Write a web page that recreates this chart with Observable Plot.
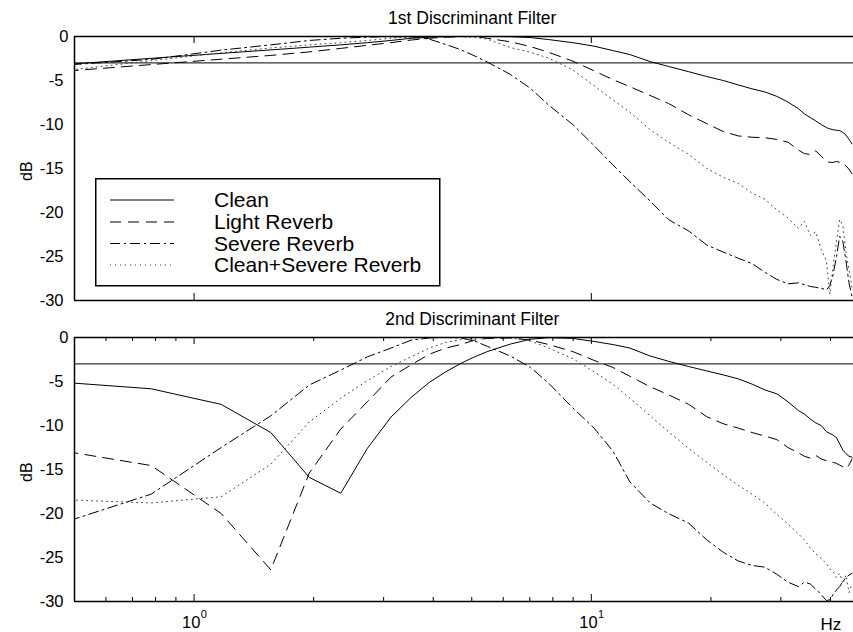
<!DOCTYPE html>
<html><head><meta charset="utf-8">
<script src="https://cdn.jsdelivr.net/npm/d3@7"></script>
<script src="https://cdn.jsdelivr.net/npm/@observablehq/plot@0.6"></script>
<style>
body{margin:0;background:#fff;}
#wrap{position:relative;width:853px;height:632px;font-family:"Liberation Sans",Arial,Helvetica,sans-serif;}
#wrap svg{display:block;}
#legend{position:absolute;left:95px;top:178px;}
</style></head><body><div id="wrap"></div>
<script>
// Frequencies (Hz) of the sampled filter responses
const freqs = [0.39, 0.78, 1.17, 1.56, 1.95, 2.34, 2.73, 3.13, 3.52, 3.91, 4.30, 4.69, 5.08, 5.47, 6.25, 7.03, 7.81, 8.98, 10.16, 11.33, 12.50, 14.06, 15.63, 17.58, 19.53, 21.48, 23.44, 25.39, 27.34, 29.30, 31.25, 33.20, 34.38, 35.55, 36.72, 37.89, 39.06, 39.84, 40.63, 41.41, 42.19, 42.97, 43.75, 44.53, 45.31];

const seriesNames = ["Clean", "Light Reverb", "Severe Reverb", "Clean+Severe Reverb"];

// 1st Discriminant Filter (dB)
const top_clean  = [-3.45,-2.48,-1.92,-1.52,-1.21,-0.95,-0.7,-0.45,-0.2,-0.08,-0.02,0,0,0,-0.02,-0.12,-0.35,-0.7,-1.1,-1.6,-2.05,-2.85,-3.4,-4.0,-4.55,-5.0,-5.5,-5.95,-6.3,-6.8,-7.45,-8.2,-8.8,-9.2,-9.6,-10.0,-10.35,-10.5,-10.6,-10.65,-10.7,-10.9,-11.2,-11.7,-12.2];
const top_light  = [-4.24,-3.19,-2.58,-2.15,-1.75,-1.35,-1.0,-0.7,-0.4,-0.2,-0.08,-0.02,0,-0.2,-0.6,-1.15,-1.8,-2.8,-3.9,-4.9,-5.7,-6.7,-7.6,-8.9,-9.9,-10.8,-11.3,-11.45,-11.5,-11.7,-12.0,-12.9,-13.3,-13.4,-13.0,-13.6,-14.2,-14.3,-14.3,-14.2,-14.3,-14.4,-14.7,-15.1,-15.6];
const top_severe = [-3.5,-2.6,-1.55,-0.95,-0.45,-0.2,-0.07,-0.02,-0.05,-0.3,-0.9,-1.5,-2.2,-2.9,-4.3,-5.9,-7.8,-10.0,-12.4,-14.6,-16.5,-18.7,-20.8,-22.1,-23.7,-24.5,-25.2,-25.8,-26.8,-27.6,-28.1,-28.0,-28.2,-28.4,-28.5,-28.6,-28.8,-28.3,-27.0,-25.0,-22.7,-23.3,-25.5,-28.0,-29.6];
const top_mixed  = [-4.3,-2.75,-1.85,-1.3,-0.95,-0.7,-0.45,-0.2,-0.05,0,0,0,-0.1,-0.3,-1.25,-1.8,-2.45,-3.8,-5.6,-7.2,-8.6,-10.6,-12.0,-13.4,-15.0,-16.0,-16.7,-17.8,-18.5,-19.7,-20.6,-21.8,-21.0,-22.6,-22.2,-24.2,-25.5,-29.3,-26.0,-23.3,-20.8,-21.5,-24.5,-26.5,-28.5];

// 2nd Discriminant Filter (dB)
const bot_clean  = [-4.83,-5.83,-7.6,-10.8,-15.9,-17.7,-12.6,-9.05,-6.8,-5.1,-3.9,-2.95,-2.2,-1.6,-0.75,-0.2,-0.02,-0.1,-0.45,-0.8,-1.2,-2.1,-2.7,-3.3,-3.8,-4.25,-4.7,-5.3,-5.95,-6.4,-7.3,-8.3,-8.7,-9.25,-9.7,-10.0,-10.7,-10.9,-11.1,-11.4,-12.1,-12.8,-13.2,-13.5,-13.6];
const bot_light  = [-12.3,-14.55,-20.0,-26.4,-15.4,-10.4,-7.3,-4.5,-3.1,-1.9,-1.2,-0.8,-0.3,-0.1,-0.05,-0.3,-0.8,-1.6,-2.6,-3.4,-4.4,-5.6,-6.5,-7.6,-9.0,-9.8,-10.3,-10.8,-11.2,-11.6,-12.5,-13.1,-13.5,-13.7,-13.4,-13.8,-14.0,-14.1,-14.2,-14.3,-14.5,-14.7,-14.9,-14.5,-13.8];
const bot_severe = [-22.2,-17.8,-12.5,-8.9,-5.4,-3.7,-2.2,-1.2,-0.3,-0.05,0,-0.05,-0.4,-1.0,-2.1,-3.4,-5.2,-8.0,-10.3,-12.9,-16.4,-18.8,-20.0,-21.1,-23.0,-24.4,-25.4,-25.9,-26.1,-26.9,-27.8,-28.3,-27.8,-28.0,-28.6,-29.2,-29.9,-29.8,-29.2,-28.7,-28.3,-27.7,-27.3,-27.0,-26.8];
const bot_mixed  = [-18.3,-18.8,-18.1,-14.4,-9.6,-6.9,-4.9,-3.3,-2.2,-1.2,-0.55,-0.25,-0.08,-0.02,-0.05,-0.4,-1.2,-2.4,-3.9,-5.3,-6.9,-8.9,-10.7,-12.6,-14.2,-15.6,-16.8,-17.8,-18.8,-20.1,-21.2,-22.3,-23.0,-23.9,-24.6,-25.1,-25.7,-26.3,-26.6,-27.3,-26.8,-28.0,-27.0,-29.0,-28.0];

const xTicks = [1, 10];
const xMinorTicks = [0.6, 0.7, 0.8, 0.9, 2, 3, 4, 5, 6, 7, 8, 9, 20, 30, 40];
const yTicks = [0, -5, -10, -15, -20, -25, -30];
const xDomain = [0.5, 45.7];
const yDomain = [-30, 0];
const refLevel = -3;

const dashes = [null, "11,7", "10,4,2,4", "1,4"];
const colors = ["#000", "#000", "#000", "#444"];
const FONT = "'Liberation Sans', Arial, Helvetica, sans-serif";

function panel({title, values, height, marginBottom, minor, xLabels}) {
  const marginTop = 36;
  const H = height - marginTop - marginBottom;
  const marks = [
    Plot.ruleY([refLevel], {stroke: "#000", strokeWidth: 1}),
    ...seriesNames.map((name, i) => {
      const rows = freqs.map((f, j) => ({f, dB: values[i][j]}));
      const o = {x: "f", y: "dB", stroke: colors[i], strokeWidth: 1, clip: true};
      if (dashes[i]) o.strokeDasharray = dashes[i];
      return Plot.line(rows, o);
    }),
    Plot.ruleY(yDomain, {stroke: "#000", strokeWidth: 1.5}),
    Plot.ruleX([xDomain[0]], {stroke: "#000", strokeWidth: 1.5}),
    Plot.ruleX(xTicks, {x: d => d, insetBottom: H - 7, stroke: "#000"}),
    Plot.ruleX(xTicks, {x: d => d, insetTop: H - 7, stroke: "#000"}),
    Plot.axisY({ticks: yTicks.filter(t => t < 0), tickSize: 0, tickPadding: 11, tickFormat: d => String(d), fontSize: 16.5, label: null}),
    Plot.axisY({ticks: yTicks.filter(t => t === 0), tickSize: 0, tickPadding: 6, tickFormat: d => String(d), fontSize: 16.5, label: null}),
    Plot.text([title], {frameAnchor: "top", lineAnchor: "middle", textAnchor: "middle", dx: 8.2, dy: -18.1, fontSize: 17.5}),
    Plot.text(["dB"], {frameAnchor: "left", lineAnchor: "middle", textAnchor: "middle", dx: -48, dy: 2.7, rotate: -90, fontSize: 16})
  ];
  if (minor) {
    marks.push(Plot.ruleX(xMinorTicks, {x: d => d, insetBottom: H - 4, stroke: "#000"}));
    marks.push(Plot.ruleX(xMinorTicks, {x: d => d, insetTop: H - 4, stroke: "#000"}));
  }
  if (xLabels) {
    marks.push(Plot.text(xTicks, {x: d => d, frameAnchor: "bottom", lineAnchor: "middle", textAnchor: "middle", text: () => "10", dx: -2.8, dy: 21.4, fontSize: 16.5}));
    marks.push(Plot.text(xTicks, {x: d => d, frameAnchor: "bottom", lineAnchor: "middle", textAnchor: "middle", text: d => String(Math.round(Math.log10(d))), dx: 9.7, dy: 12.5, fontSize: 11}));
    marks.push(Plot.text(["Hz"], {frameAnchor: "bottom-right", lineAnchor: "middle", textAnchor: "end", dx: -12.3, dy: 22.6, fontSize: 17}));
  }
  return Plot.plot({
    width: 853, height, marginLeft: 74, marginRight: 0, marginTop, marginBottom,
    x: {type: "log", domain: xDomain, axis: null},
    y: {domain: yDomain},
    style: {fontFamily: FONT, fontSize: "16.5px", color: "#000", background: "#fff", overflow: "visible"},
    marks
  });
}

const wrap = document.getElementById("wrap");
wrap.appendChild(panel({title: "1st Discriminant Filter", values: [top_clean, top_light, top_severe, top_mixed], height: 301, marginBottom: 1, minor: false, xLabels: false}));
wrap.appendChild(panel({title: "2nd Discriminant Filter", values: [bot_clean, bot_light, bot_severe, bot_mixed], height: 331, marginBottom: 31, minor: true, xLabels: true}));

// Legend box (inside the top panel)
const lg = d3.select(wrap).append("svg").attr("id", "legend").attr("width", 346).attr("height", 109);
lg.append("rect").attr("x", 0.75).attr("y", 0.75).attr("width", 344).attr("height", 107)
  .attr("fill", "#fff").attr("stroke", "#000").attr("stroke-width", 1.5);
const rowY = [22, 44, 65.5, 87];
seriesNames.forEach((name, i) => {
  const l = lg.append("line").attr("x1", 15).attr("x2", 79).attr("y1", rowY[i]).attr("y2", rowY[i])
    .attr("stroke", colors[i]).attr("stroke-width", 1);
  if (dashes[i]) l.attr("stroke-dasharray", dashes[i]);
  lg.append("text").attr("x", 119).attr("y", rowY[i]).attr("dy", "0.35em")
    .attr("font-family", FONT).attr("font-size", 21).attr("fill", "#000").text(name);
});
</script></body></html>
